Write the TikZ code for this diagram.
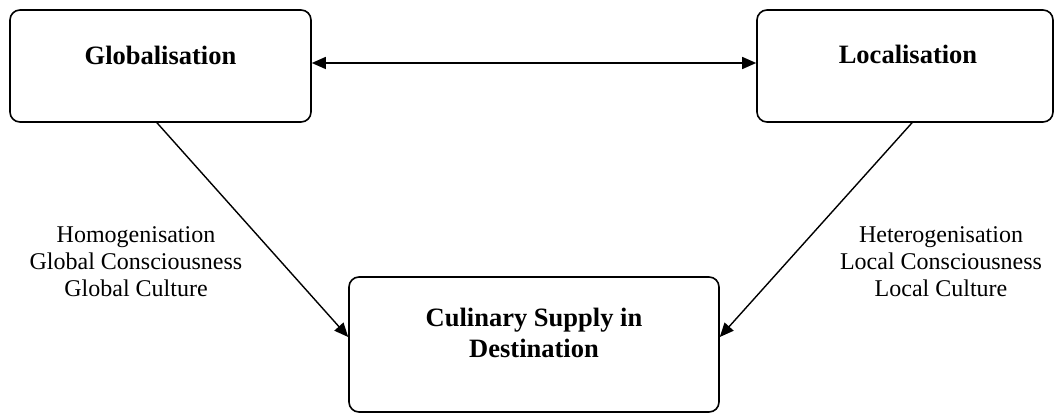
\documentclass[tikz,border=0pt]{standalone}
\usepackage{fontspec}
\setmainfont{Liberation Serif}
\usetikzlibrary{arrows.meta}
\begin{document}
\begin{tikzpicture}[x=1pt,y=-1pt,
  box/.style={draw, line width=1.6pt, rounded corners=10pt, inner sep=0pt},
  title/.style={font=\fontsize{26.5}{31}\selectfont\bfseries, anchor=base, inner sep=0pt, align=center},
  lbl/.style={font=\fontsize{24}{27}\selectfont, align=center, inner sep=0pt},
  conn/.style={line width=1.4pt, -{Triangle[length=14pt,width=12pt]}},
  biconn/.style={line width=1.4pt, {Triangle[length=14pt,width=12pt]}-{Triangle[length=14pt,width=12pt]}}
]
\useasboundingbox (0,0) rectangle (1054,414);
\node[box, minimum width=301pt, minimum height=112pt] (glob) at (160.5,66) {};
\node[box, minimum width=296pt, minimum height=112pt] (loc) at (905,66) {};
\node[box, minimum width=370pt, minimum height=135pt] (cul) at (534,344.5) {};
\node[title] (globt) at (160.5,64.5) {Globalisation};
\node[title] (loct) at (908,63.5) {Localisation};
\node[title] (cult1) at (534,326) {Culinary Supply in};
\node[title] (cult2) at (534,357) {Destination};
\node[lbl] (llab) at (136,262) {Homogenisation\\Global Consciousness\\Global Culture};
\node[lbl] (rlab) at (941,262) {Heterogenisation\\Local Consciousness\\Local Culture};
\draw[biconn] ([yshift=3pt]glob.east) -- ([yshift=3pt]loc.west);
\draw[conn] ([xshift=-3.5pt]glob.south) -- ([yshift=7.5pt]cul.west);
\draw[conn] ([xshift=7pt]loc.south) -- ([yshift=7.5pt]cul.east);
\end{tikzpicture}
\end{document}
